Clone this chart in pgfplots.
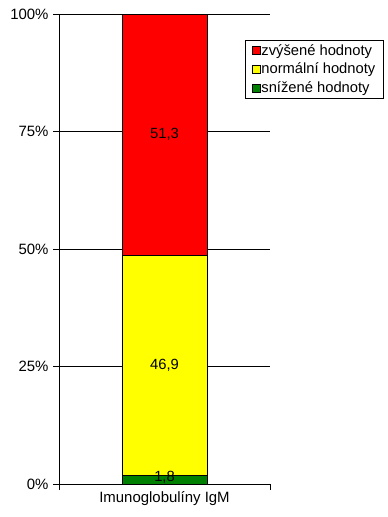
\documentclass[border=0pt]{standalone}
\usepackage{pgfplots}
\pgfplotsset{compat=1.18}
\usepackage{fontspec}
\setmainfont{Liberation Sans}
\definecolor{cgreen}{HTML}{008000}
\definecolor{cyellow}{HTML}{FFFF00}
\definecolor{cred}{HTML}{FF0000}
\begin{document}
\begin{tikzpicture}[x=1bp,y=1bp]
\useasboundingbox (0,0) rectangle (387,517);
\begin{axis}[
  at={(59bp,33bp)}, anchor=south west,
  scale only axis, width=211bp, height=470bp,
  xmin=-0.5, xmax=0.5, ymin=0, ymax=100,
  axis x line=bottom, axis y line=left,
  axis line style={-, line width=0.8pt},
  ytick={0,25,50,75,100},
  yticklabels={0\%,25\%,50\%,75\%,100\%},
  ymajorgrids, grid style={black, line width=0.6pt},
  xtick={-0.5,0.5}, xticklabels={},
  extra x ticks={0}, extra x tick labels={Imunoglobulíny IgM},
  extra x tick style={major tick length=0pt, grid=none, xticklabel style={yshift=-4bp}},
  tick align=outside, major tick length=6bp,
  tick style={black, line width=0.6pt},
  ticklabel style={font=\fontsize{15}{16}\selectfont},
  yticklabel style={xshift=-1bp},
  ybar stacked, bar width=85bp,
  reverse legend,
  legend style={at={(0.8815,0.9447)}, anchor=north west, draw=black, line width=0.6pt,
    font=\fontsize{14.8}{17}\selectfont, inner xsep=6.5bp, inner ysep=3bp,
    row sep=4.5bp, nodes={inner xsep=1bp, inner ysep=1bp}},
  legend image code/.code={\draw[#1, line width=0.6pt] (0bp,-4bp) rectangle (8bp,4bp);},
  legend cell align=left,
]
\addplot[fill=cgreen, draw=black, line width=0.8pt] coordinates {(0,1.8)};
\addplot[fill=cyellow, draw=black, line width=0.8pt] coordinates {(0,46.9)};
\addplot[fill=cred, draw=black, line width=0.8pt] coordinates {(0,51.3)};
\legend{snížené hodnoty, normální hodnoty, zvýšené hodnoty}
\coordinate (l1) at (axis cs:0,1.4);
\coordinate (l2) at (axis cs:0,25.25);
\coordinate (l3) at (axis cs:0,74.35);
\end{axis}
\node[font=\fontsize{14.8}{16}\selectfont] at (l1) {1,8};
\node[font=\fontsize{14.8}{16}\selectfont] at (l2) {46,9};
\node[font=\fontsize{14.8}{16}\selectfont] at (l3) {51,3};
\end{tikzpicture}
\end{document}
